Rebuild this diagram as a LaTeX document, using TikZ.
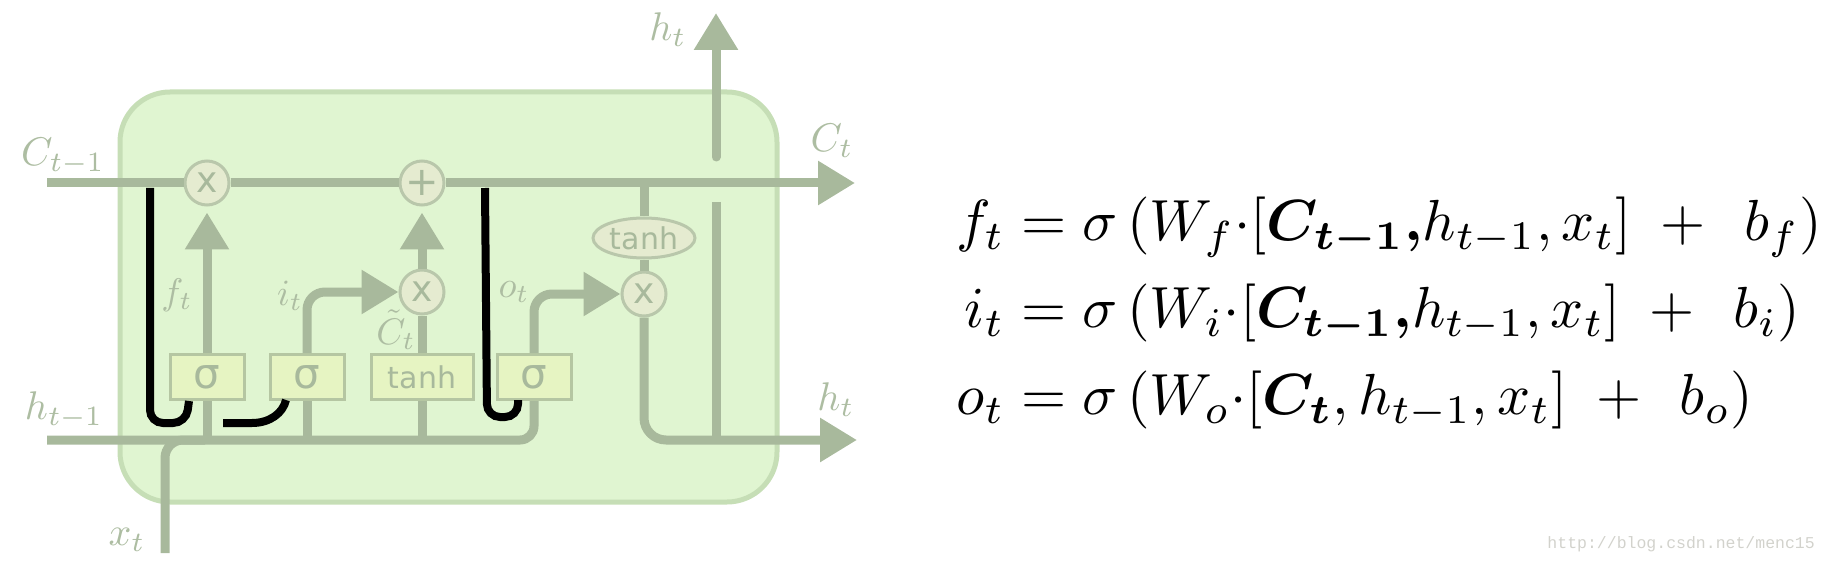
\documentclass[tikz,border=0pt]{standalone}
\usepackage{amsmath,bm}
\usepackage{fontspec}
\newfontfamily\dvs{DejaVu Sans}
\newfontfamily\lmono{Liberation Mono}
\usetikzlibrary{arrows.meta,shapes.geometric}
\definecolor{lg}{HTML}{A8B99C}
\definecolor{lt}{HTML}{ADBDA2}
\definecolor{cellf}{HTML}{E0F5D1}
\definecolor{cellb}{HTML}{C6DEB6}
\definecolor{opf}{HTML}{E5EBD0}
\definecolor{opb}{HTML}{B9C7AB}
\definecolor{gf}{HTML}{E6F4C2}
\definecolor{gb}{HTML}{B5C6A2}
\definecolor{wm}{HTML}{D2D2CC}
\newcommand{\olab}[1]{\scalebox{4}{$#1$}}
\newcommand{\ilabt}[1]{\scalebox{3.7}{$#1$}}
\tikzset{
  wire/.style={draw=lg, line width=9pt},
  arr/.style={wire, -{Triangle[length=37pt,width=42pt]}},
  blk/.style={draw=black, line width=8pt, rounded corners=13pt},
  op/.style={circle, draw=opb, fill=opf, line width=3pt, minimum size=44pt, inner sep=0pt, text=lg},
  gate/.style={rectangle, draw=gb, fill=gf, line width=3pt, minimum height=45pt, inner sep=0pt, text=lg},
  lab/.style={text=lt, inner sep=0pt},
}
\begin{document}
\begin{tikzpicture}[x=1pt,y=-1pt]
\useasboundingbox (0,0) rectangle (1826,564);
% cell
\node[draw=cellb, fill=cellf, line width=5pt, rounded corners=50pt, minimum width=657pt, minimum height=410pt] (cell) at (448.5,297) {};
% coordinates
\coordinate (cl) at (47,183);
\coordinate (cr) at (855,183);
\coordinate (hl) at (47,440);
\coordinate (hr) at (857,440);
\coordinate (xb) at (165,553);
\coordinate (hj) at (205,440);
\coordinate (hvb) at (716,440);
\coordinate (hvt) at (716,202);
\coordinate (hub) at (716,157);
\coordinate (hut) at (716,13);
% operations
\node[op, font=\dvs\fontsize{36}{36}\selectfont] (fx) at (207,183) {x};
\node[op, font=\dvs\fontsize{40}{40}\selectfont] (ap) at (422,183) {+};
\node[op, font=\dvs\fontsize{36}{36}\selectfont] (ix) at (422,292) {x};
\node[op, font=\dvs\fontsize{36}{36}\selectfont] (ox) at (644,294) {x};
\node[ellipse, draw=opb, fill=opf, line width=3pt, minimum width=102pt, minimum height=40pt, inner sep=0pt, text=lg, font=\dvs\fontsize{30}{30}\selectfont] (th) at (644,238) {tanh};
% gates
\node[gate, minimum width=74pt, font=\dvs\fontsize{42}{42}\selectfont] (s1) at (207,377) {σ};
\node[gate, minimum width=74pt, font=\dvs\fontsize{42}{42}\selectfont] (s2) at (307,377) {σ};
\node[gate, minimum width=102pt, font=\dvs\fontsize{30}{30}\selectfont] (tb) at (422,377) {tanh};
\node[gate, minimum width=74pt, font=\dvs\fontsize{42}{42}\selectfont] (s3) at (534,377) {σ};
% cell state line
\draw[wire] (cl) -- (fx.west);
\draw[wire] (fx.east) -- (ap.west);
\draw[arr] (ap.east) -- (cr);
\draw[wire] (th.north |- cr) -- (th.north);
\draw[wire] (th.south) -- (ox.north);
% hidden line
\draw[wire, rounded corners=14pt] (hl) -| (s3.south);
\draw[wire, rounded corners=18pt] (xb) |- (hj);
\draw[wire] (s1.south |- hl) -- (s1.south);
\draw[wire] (s2.south |- hl) -- (s2.south);
\draw[wire] (tb.south |- hl) -- (tb.south);
% gate outputs
\draw[arr, shorten >=6pt] (s1.north) -- (fx.south);
\draw[arr, rounded corners=18pt] (s2.north) |- (ix.west);
\draw[wire] (tb.north) -- (ix.south);
\draw[arr, shorten >=6pt] (ix.north) -- (ap.south);
\draw[arr, rounded corners=18pt] (s3.north) |- (ox.west);
\draw[arr, rounded corners=22pt] (ox.south) |- (hr);
\draw[wire] (hvt) -- (hvb);
\draw[arr, line cap=round] (hub) -- (hut);
% black peephole lines
\coordinate (k1a) at (150,188);
\coordinate (k1b) at (189,401);
\coordinate (k2a) at (223,423);
\coordinate (k2b) at (286,400);
\coordinate (k3a) at (485,188);
\coordinate (k3b) at (518,400);
\draw[blk] (k1a) -- (150,423) -- (186,423) -- (k1b);
\draw[draw=black, line width=8pt] (k2a) -- (252,423) .. controls (270,423) and (283,413) .. (k2b);
\draw[blk] (k3a) -- (487,417) -- (518,417) -- (k3b);
% labels
\node[lab] (lc0) at (63,157) {\olab{C_{t-1}}};
\node[lab] (lh0) at (64,410) {\olab{h_{t-1}}};
\node[lab] (lx) at (127,540) {\olab{x_t}};
\node[lab] (lf) at (177,295) {\ilabt{f_t}};
\node[lab] (li) at (290,296) {\ilabt{i_t}};
\node[lab] (lct) at (396,330) {\ilabt{\tilde{C}_t}};
\node[lab] (lo) at (514,292) {\ilabt{o_t}};
\node[lab] (lht) at (668,30) {\olab{h_t}};
\node[lab] (lc1) at (832,141) {\olab{C_t}};
\node[lab] (lh1) at (836,400) {\olab{h_t}};
% equations
\node[anchor=west, inner sep=0pt] (eqs) at (956,314) {\scalebox{5.8}{$\begin{aligned}
f_t &= \sigma\left(W_f{\cdot}[\boldsymbol{C_{t-1}{,}}h_{t-1},x_t]\;+\;\,b_f\right)\\
i_t &= \sigma\left(W_i{\cdot}[\boldsymbol{C_{t-1}{,}}h_{t-1},x_t]\;+\;\,b_i\right)\\
o_t &= \sigma\left(W_o{\cdot}[\boldsymbol{C_{t}},h_{t-1},x_t]\;+\;\,b_o\right)
\end{aligned}$}};
\node[anchor=east, inner sep=0pt, text=wm, font=\lmono\fontsize{16.5}{16.5}\selectfont] (wmk) at (1815,544) {http://blog.csdn.net/menc15};
\end{tikzpicture}
\end{document}
